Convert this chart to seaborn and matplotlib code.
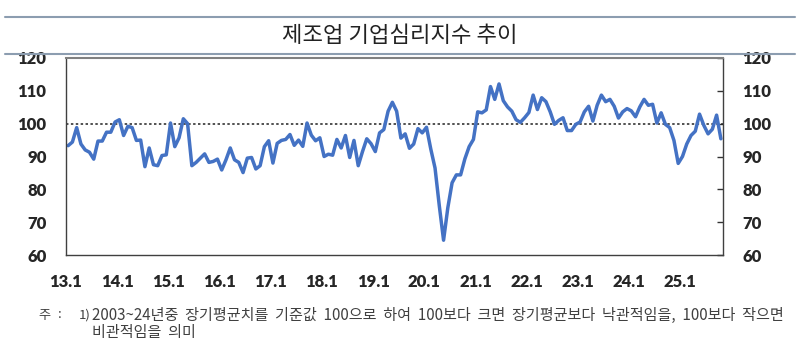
import numpy as np
import pandas as pd
import matplotlib
matplotlib.use("Agg")
import matplotlib.pyplot as plt
import seaborn as sns

sns.set_style("white")
plt.rcParams["font.family"] = ["Noto Sans CJK KR", "DejaVu Sans"]

# monthly index values, 2013.1 ~ 2025.10
values = [
    93.3, 94.4, 98.8, 93.8, 92.0, 91.3, 89.2, 94.7, 94.7, 97.4, 97.4, 100.5,   # 2013
    101.2, 96.4, 99.2, 98.8, 94.9, 95.0, 86.9, 92.6, 87.5, 87.2, 90.3, 90.5,   # 2014
    100.2, 93.0, 95.7, 101.5, 100.0, 87.2, 88.2, 89.5, 90.8, 88.2, 88.5, 89.2, # 2015
    85.9, 89.0, 92.6, 89.0, 88.2, 85.1, 89.5, 89.7, 86.2, 87.2, 93.0, 94.8,    # 2016
    88.0, 94.0, 94.9, 95.2, 96.7, 93.4, 95.0, 93.1, 100.2, 96.5, 94.8, 95.7,   # 2017
    90.0, 90.7, 90.4, 95.2, 92.6, 96.4, 89.7, 94.9, 87.2, 91.5, 95.4, 93.9,    # 2018
    91.5, 97.2, 98.2, 103.8, 106.5, 103.8, 95.6, 96.9, 92.5, 93.8, 98.5, 97.2, # 2019
    98.9, 92.3, 86.5, 75.0, 64.5, 74.4, 82.0, 84.4, 84.4, 89.3, 93.0, 95.2,    # 2020
    103.6, 103.3, 104.2, 111.3, 107.4, 112.1, 107.0, 105.1, 103.8, 101.2, 100.4, 101.8,  # 2021
    103.4, 108.7, 104.3, 107.9, 106.7, 103.6, 99.8, 101.0, 101.8, 97.9, 97.9, 99.8,      # 2022
    100.5, 103.6, 105.3, 100.8, 105.6, 108.7, 106.7, 107.4, 105.3, 101.7, 103.6, 104.6,  # 2023
    103.9, 102.1, 105.1, 107.4, 105.6, 105.9, 100.2, 103.3, 99.8, 98.8, 94.9, 87.9,      # 2024
    90.0, 93.8, 96.4, 97.7, 102.9, 99.5, 96.9, 98.3, 102.6, 95.4,                        # 2025
]
year_labels = ["13.1", "14.1", "15.1", "16.1", "17.1", "18.1", "19.1",
               "20.1", "21.1", "22.1", "23.1", "24.1", "25.1"]
y_ticks = [60, 70, 80, 90, 100, 110, 120]

title = "제조업 기업심리지수 추이"
note_head = "주"
note_mark = "1)"
note1 = "2003~24년중 장기평균치를 기준값 100으로 하여 100보다 크면 장기평균보다 낙관적임을, 100보다 작으면"
note2 = "비관적임을 의미"

df = pd.DataFrame({"pos": np.arange(len(values)) + 0.5, "value": values})

fig = plt.figure(figsize=(8, 3.51), dpi=100)
ax = fig.add_axes([66 / 800, 1 - 255 / 351, (723 - 66) / 800, (255 - 58) / 351])

sns.lineplot(data=df, x="pos", y="value", ax=ax, color="#4472C4", linewidth=2.5)
ax.axhline(100, color="#222222", linestyle=(0, (1.6, 1.6)), linewidth=1.1, zorder=1)

ax.set_xlim(0, len(values))
ax.set_ylim(60, 120)
ax.set_xticks([12 * i for i in range(len(year_labels))])
ax.set_xticklabels(year_labels)
ax.set_yticks(y_ticks)
ax.set_xlabel("")
ax.set_ylabel("")

tick_fp = matplotlib.font_manager.FontProperties(family="Lato", weight="heavy", size=12)
ax.tick_params(axis="x", direction="in", length=4, width=1, color="#333333", pad=14)
ax.tick_params(axis="y", direction="in", length=4, width=1, color="#333333", pad=14,
               right=True, labelright=True)
for t in ax.xaxis.get_major_ticks():
    t.label1.set_fontproperties(tick_fp)
for t in ax.yaxis.get_major_ticks():
    t.label1.set_fontproperties(tick_fp)
    t.label2.set_fontproperties(tick_fp)

for side in ["left", "right", "bottom"]:
    ax.spines[side].set_color("#404040")
    ax.spines[side].set_linewidth(1.0)
ax.spines["top"].set_color("#808080")
ax.spines["top"].set_linewidth(1.5)

# title with rules
fig.add_artist(plt.Line2D([5 / 800, 795 / 800], [1 - 17 / 351, 1 - 17 / 351],
                          color="#8c9db0", linewidth=1.5))
fig.add_artist(plt.Line2D([5 / 800, 795 / 800], [1 - 54 / 351, 1 - 54 / 351],
                          color="#8c9db0", linewidth=1.5))
fig.text(0.5, 1 - 36 / 351, title, ha="center", va="center", fontsize=16, color="#222222")

# footnote
note_color = "#404040"
fig.text(38 / 800, 1 - 315 / 351, note_head, ha="left", va="center", fontsize=9.5, color=note_color)
fig.text(58 / 800, 1 - 315 / 351, ":", ha="left", va="center", fontsize=9.5, color=note_color)
fig.text(79 / 800, 1 - 315 / 351, note_mark, ha="left", va="center", fontsize=9.5, color=note_color)
line1 = fig.text(92 / 800, 1 - 315 / 351, note1.replace(" ", "  "), ha="left", va="center",
                 fontsize=9.5, color=note_color)
renderer = fig.canvas.get_renderer()
w = line1.get_window_extent(renderer).width
fs = 9.5 * (785 - 92) / w
line1.set_fontsize(fs)
fig.text(92 / 800, 1 - 332 / 351, note2.replace(" ", "  "), ha="left", va="center",
         fontsize=fs, color=note_color)

fig.savefig("out.png", dpi=100)
